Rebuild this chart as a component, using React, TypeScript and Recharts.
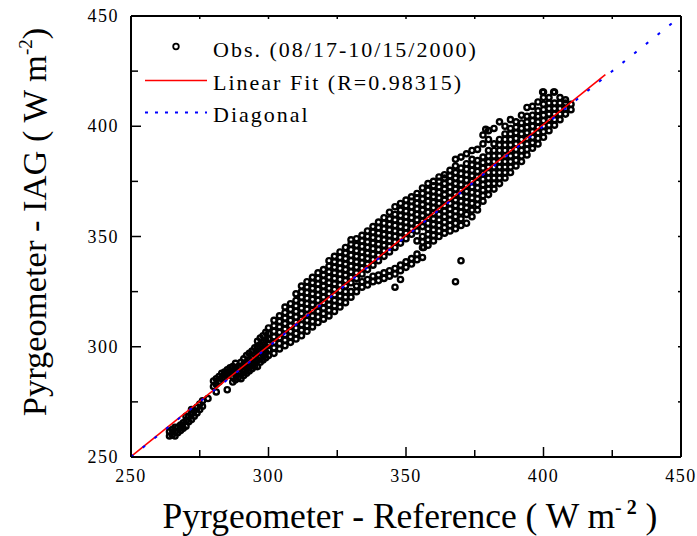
import React from 'react';
import { ScatterChart, Scatter, XAxis, YAxis, Legend } from 'recharts';

const FONT = '"Liberation Serif", "Times New Roman", Times, serif';

// axis ticks (major labelled every 50, minor every 25)
const axisTicks = [250, 275, 300, 325, 350, 375, 400, 425, 450];
const labelledTicks = [250, 300, 350, 400, 450];

const xTitle = 'Pyrgeometer - Reference ( W m';
const yTitle = 'Pyrgeometer - IAG ( W m';
const legendLabels = ['Obs. (08/17-10/15/2000)', 'Linear Fit (R=0.98315)', 'Diagonal'];

// observations, grouped by x column: [x, y1, y2, ...]
const obsLow = [
  [264, 259.5, 261.5],
  [265, 260, 262.5],
  [266, 259.5, 261.5, 263.5],
  [267, 261, 263.5],
  [268, 262, 264.5],
  [269, 263, 265.5],
  [270, 264, 266.5, 268.5],
  [271, 266, 268.5],
  [272, 267, 269.5, 271.5],
  [273, 268.5, 271],
  [274, 270, 272.5],
  [275, 271.5, 274],
  [276, 273, 275.5],
  [278, 276.5],
];

const obsMid = [
  [280, 282, 284.5],
  [281, 279.5, 283, 285.5],
  [282, 284, 286.5],
  [283, 285.5, 288],
  [284, 286, 288.5],
  [285, 280.5, 287, 289.5],
  [286, 288, 290.5],
  [287, 284, 286.5, 289, 291],
  [288, 285, 287.5, 290, 292.5],
  [289, 286, 288.5, 291],
  [290, 285.5, 288, 290.5, 293],
  [291, 287, 289.5, 292, 294.5],
  [292, 288, 290.5, 293, 296],
  [293, 289, 291.5, 294, 297],
  [294, 290, 292.5, 295, 298],
  [295, 291, 293.5, 296.5, 299.5],
  [296, 291, 294, 297, 300, 302.5],
  [297, 293, 295.5, 298, 301, 304],
  [298, 294, 296.5, 299, 302, 305],
  [299, 295, 297.5, 300, 303, 306.5],
];

const obsCore = [
  [300, 296, 298.5, 301, 303.5, 306, 308.5],
  [302, 297, 299.5, 302, 304.5, 307, 309.5, 312],
  [304, 299, 301.5, 304, 306.5, 309, 311.5, 314],
  [306, 300.5, 303, 305.5, 308, 310.5, 313, 315.5, 318],
  [308, 302, 304.5, 307, 309.5, 312, 314.5, 317, 319.5],
  [310, 303.5, 306, 308.5, 311, 313.5, 316, 318.5, 321, 324],
  [312, 305, 307.5, 310, 312.5, 315, 317.5, 320, 322.5, 325, 327.5],
  [314, 307, 309.5, 312, 314.5, 317, 319.5, 322, 324.5, 327, 329.5],
  [316, 309, 311.5, 314, 316.5, 319, 321.5, 324, 326.5, 329, 331.5],
  [318, 311, 313.5, 316, 318.5, 321, 323.5, 326, 328.5, 331, 333.5],
  [320, 312.5, 315, 317.5, 320, 322.5, 325, 327.5, 330, 332.5, 335],
  [322, 314, 316.5, 319, 321.5, 324, 326.5, 329, 331.5, 334, 336.5, 339],
  [324, 316, 318.5, 321, 323.5, 326, 328.5, 331, 333.5, 336, 338.5, 341],
  [326, 318, 320.5, 323, 325.5, 328, 330.5, 333, 335.5, 338, 340.5, 343],
  [328, 320, 322.5, 325, 327.5, 330, 332.5, 335, 337.5, 340, 342.5, 345],
  [330, 322.5, 325, 329, 331.5, 334, 336.5, 339, 341.5, 344, 346.5, 348.5],
  [332, 325, 327.5, 331, 333.5, 336, 338.5, 341, 343.5, 346, 349],
  [334, 327, 329.5, 333, 335.5, 338, 340.5, 343, 345.5, 348, 350.5],
  [336, 328, 330.5, 335, 337.5, 340, 342.5, 345, 347.5, 350, 352.5],
  [338, 329.5, 332, 337, 339.5, 342, 344.5, 347, 349.5, 352, 354.5],
  [340, 330, 332.5, 339, 341.5, 344, 346.5, 349, 351.5, 354, 356.5],
  [342, 331, 333.5, 341, 343.5, 346, 348.5, 351, 353.5, 356, 358.5],
  [344, 332, 334.5, 343, 345.5, 348, 350.5, 353, 355.5, 358, 361],
  [346, 327, 333, 335.5, 345, 347.5, 350, 352.5, 355, 357.5, 360, 363.5],
  [348, 330.5, 334.5, 337, 347, 349.5, 352, 354.5, 357, 359.5, 362, 365],
  [350, 336, 338.5, 349, 351.5, 354, 356.5, 359, 361.5, 364, 366.5],
  [352, 337.5, 340, 351, 353.5, 356, 358.5, 361, 363.5, 366, 368],
  [354, 339.5, 342, 348, 352.5, 355, 357.5, 360, 362.5, 365, 367.5, 369.5],
  [356, 340.5, 345, 347.5, 350, 354.5, 357, 359.5, 362, 364.5, 367, 369.5, 372],
  [358, 346, 348.5, 351, 353.5, 356, 358.5, 361, 363.5, 366, 368.5, 371, 374],
];

const obsUpper = [
  [360, 348, 350.5, 353, 355.5, 358, 360.5, 363, 365.5, 368, 370.5, 373, 375],
  [362, 350, 352.5, 355, 357.5, 360, 362.5, 365, 367.5, 370, 372.5, 375, 377],
  [364, 351.5, 354, 356.5, 359, 361.5, 364, 366.5, 369, 371.5, 374, 376.5, 378],
  [366, 352.5, 355, 357.5, 360, 362.5, 365, 367.5, 370, 372.5, 375, 377.5, 380],
  [368, 353.5, 356, 359, 361.5, 364, 366.5, 369, 371.5, 374, 376.5, 379, 382, 385],
  [370, 355, 358, 361, 363.5, 366, 368.5, 371, 373.5, 376, 378.5, 381, 386],
  [372, 356, 360, 363, 365.5, 368, 370.5, 373, 375.5, 378, 380.5, 383, 387.5],
  [374, 359, 362, 365, 367.5, 370, 372.5, 375, 377.5, 380, 382.5, 385, 389],
  [376, 362, 364.5, 367, 369.5, 372, 374.5, 377, 379.5, 382, 384.5, 389.5],
  [378, 366, 368.5, 371, 373.5, 376, 378.5, 381, 383.5, 386, 392, 396],
  [380, 369, 371.5, 374, 376.5, 379, 381.5, 384, 386.5, 389, 394, 398],
  [382, 371.5, 374, 376.5, 379, 381.5, 384, 386.5, 389, 392, 399],
  [384, 374, 376.5, 379, 381.5, 384, 386.5, 389, 391.5, 394, 402],
  [386, 376.5, 379, 381.5, 384, 386.5, 389, 391.5, 394, 396.5, 400],
  [388, 379, 381.5, 384, 386.5, 389, 391.5, 394, 396.5, 399, 403],
  [390, 382, 384.5, 387, 389.5, 392, 394.5, 397, 399.5, 402],
  [392, 384, 386.5, 389, 391.5, 394, 396.5, 399, 401.5, 405],
  [394, 387, 389.5, 392, 394.5, 397, 399.5, 402, 404.5, 408.5],
  [396, 390, 392.5, 395, 397.5, 400, 402.5, 405, 409],
  [398, 392, 394.5, 397, 399.5, 402, 404.5, 407, 411],
  [400, 395, 397.5, 400, 402.5, 405, 407.5, 410, 413, 415.5],
  [402, 398, 400.5, 403, 405.5, 408, 410.5, 413],
  [404, 400.5, 403, 405.5, 408, 410.5, 415.5],
  [406, 403, 405.5, 408, 410.5, 413],
  [408, 405.5, 408, 410.5, 412],
  [410, 407.5, 410],
];

const obsOutliers = [
  [356.4, 345],
  [368, 329.5],
  [370, 339],
  [403.7, 415.5],
  [399.7, 415.5],
  [379, 398.6],
];

const fitX = [250, 422.5];
const fitY = [250.2, 423.4];
const diagX = [250, 450];
const diagY = [250, 450];

const colsToPoints = (cols: number[][]) =>
  cols.flatMap(([x, ...ys]) => ys.map((y) => ({ x, y })));

const obsData = [
  ...colsToPoints(obsLow),
  ...colsToPoints(obsMid),
  ...colsToPoints(obsCore),
  ...colsToPoints(obsUpper),
  ...obsOutliers.map(([x, y]) => ({ x, y })),
];
const fitData = fitX.map((x, i) => ({ x, y: fitY[i] }));
const diagData = diagX.map((x, i) => ({ x, y: diagY[i] }));

const Ring = (props: any) => {
  const { cx, cy } = props;
  if (cx == null || cy == null) return <g />;
  return <circle cx={cx} cy={cy} r={2.6} fill="none" stroke="#000" strokeWidth={2.4} />;
};
const NoShape = () => <g />;

const isMajor = (v: number) => labelledTicks.includes(v);

const BottomTick = (props: any) => {
  const { x, y, payload } = props;
  const v = payload.value;
  const major = isMajor(v);
  return (
    <g>
      <line x1={x} y1={y} x2={x} y2={y - (major ? 10 : 7)} stroke="#000" strokeWidth={1.5} />
      {major && (
        <text x={x} y={y + 25} textAnchor="middle" fontFamily={FONT} fontSize={18} letterSpacing={1.5} fill="#000">
          {v}
        </text>
      )}
    </g>
  );
};

const LeftTick = (props: any) => {
  const { x, y, payload } = props;
  const v = payload.value;
  const major = isMajor(v);
  return (
    <g>
      <line x1={x} y1={y} x2={x + (major ? 10 : 7)} y2={y} stroke="#000" strokeWidth={1.5} />
      {major && (
        <text x={x - 12} y={y + 6} textAnchor="end" fontFamily={FONT} fontSize={18} letterSpacing={1.5} fill="#000">
          {v}
        </text>
      )}
    </g>
  );
};

const TopTick = (props: any) => {
  const { x, y } = props;
  return <line x1={x} y1={y} x2={x} y2={y + 3} stroke="#000" strokeWidth={1.5} />;
};

const RightTick = (props: any) => {
  const { x, y } = props;
  return <line x1={x} y1={y} x2={x - 3} y2={y} stroke="#000" strokeWidth={1.5} />;
};

const XTitle = (props: any) => {
  const vb = props.viewBox || { x: 131, y: 457, width: 550 };
  const cx = vb.x + vb.width / 2 + 4;
  return (
    <text x={cx} y={vb.y + 71} textAnchor="middle" fontFamily={FONT} fontSize={35.5} fill="#000">
      {xTitle}
      <tspan dy={-14} fontSize={20}>- </tspan>
      <tspan fontSize={20} fontWeight="bold">2</tspan>
      <tspan dy={14} fontSize={35.5}> )</tspan>
    </text>
  );
};

const YTitle = () => {
  const x = 46;
  const y = 222;
  return (
    <text x={x} y={y} transform={`rotate(-90, ${x}, ${y})`} textAnchor="middle" fontFamily={FONT} fontSize={34.5} fill="#000">
      {yTitle}
      <tspan dy={-14} fontSize={19}>-2</tspan>
      <tspan dy={14} fontSize={34.5}>)</tspan>
    </text>
  );
};

const renderLegend = () => (
  <svg width={380} height={110} style={{ display: 'block' }}>
    <circle cx={36} cy={18.5} r={2.8} fill="none" stroke="#000" strokeWidth={1.8} />
    <text x={73} y={28.5} fontFamily={FONT} fontSize={22} letterSpacing={2} fill="#000">{legendLabels[0]}</text>
    <line x1={5} y1={52.5} x2={67} y2={52.5} stroke="#ff0000" strokeWidth={1.6} />
    <text x={73} y={61.5} fontFamily={FONT} fontSize={22} letterSpacing={2} fill="#000">{legendLabels[1]}</text>
    <line x1={5} y1={84.5} x2={67} y2={84.5} stroke="#0000ff" strokeWidth={2} strokeDasharray="3 7" />
    <text x={73} y={93.5} fontFamily={FONT} fontSize={22} letterSpacing={2} fill="#000">{legendLabels[2]}</text>
  </svg>
);

export default function App() {
  return (
    <div style={{ position: 'absolute', left: 0, top: 0, width: 697, height: 536, background: '#fff' }}>
      <ScatterChart width={697} height={536} margin={{ top: 0, right: 0, bottom: 0, left: 0 }}>
        <XAxis
          xAxisId="bottom"
          dataKey="x"
          type="number"
          orientation="bottom"
          domain={[250, 450]}
          ticks={axisTicks}
          interval={0}
          height={79}
          tickSize={0}
          tickMargin={0}
          tick={<BottomTick />}
          axisLine={{ stroke: '#000', strokeWidth: 2 }}
          tickLine={false}
          allowDataOverflow
          label={<XTitle />}
        />
        <XAxis
          xAxisId="top"
          dataKey="x"
          type="number"
          orientation="top"
          domain={[250, 450]}
          ticks={axisTicks}
          interval={0}
          height={16}
          tickSize={0}
          tickMargin={0}
          tick={<TopTick />}
          axisLine={{ stroke: '#000', strokeWidth: 2 }}
          tickLine={false}
          allowDataOverflow
        />
        <YAxis
          yAxisId="left"
          dataKey="y"
          type="number"
          orientation="left"
          domain={[250, 450]}
          ticks={axisTicks}
          interval={0}
          width={131}
          tickSize={0}
          tickMargin={0}
          tick={<LeftTick />}
          axisLine={{ stroke: '#000', strokeWidth: 2 }}
          tickLine={false}
          allowDataOverflow
          label={<YTitle />}
        />
        <YAxis
          yAxisId="right"
          dataKey="y"
          type="number"
          orientation="right"
          domain={[250, 450]}
          ticks={axisTicks}
          interval={0}
          width={16}
          tickSize={0}
          tickMargin={0}
          tick={<RightTick />}
          axisLine={{ stroke: '#000', strokeWidth: 2 }}
          tickLine={false}
          allowDataOverflow
        />
        <Legend
          layout="vertical"
          align="center"
          verticalAlign="middle"
          content={renderLegend}
          wrapperStyle={{ left: 140, top: 28, width: 380, height: 110 }}
        />
        <Scatter
          name={legendLabels[0]}
          data={obsData}
          xAxisId="bottom"
          yAxisId="left"
          shape={<Ring />}
          isAnimationActive={false}
        />
        <Scatter
          name={legendLabels[1]}
          data={fitData}
          xAxisId="bottom"
          yAxisId="left"
          line={{ stroke: '#ff0000', strokeWidth: 1.6 }}
          lineType="joint"
          shape={<NoShape />}
          isAnimationActive={false}
        />
        <Scatter
          name={legendLabels[2]}
          data={diagData}
          xAxisId="bottom"
          yAxisId="left"
          line={{ stroke: '#0000ff', strokeWidth: 2, strokeDasharray: '3 12' }}
          lineType="joint"
          shape={<NoShape />}
          isAnimationActive={false}
        />
      </ScatterChart>
    </div>
  );
}
